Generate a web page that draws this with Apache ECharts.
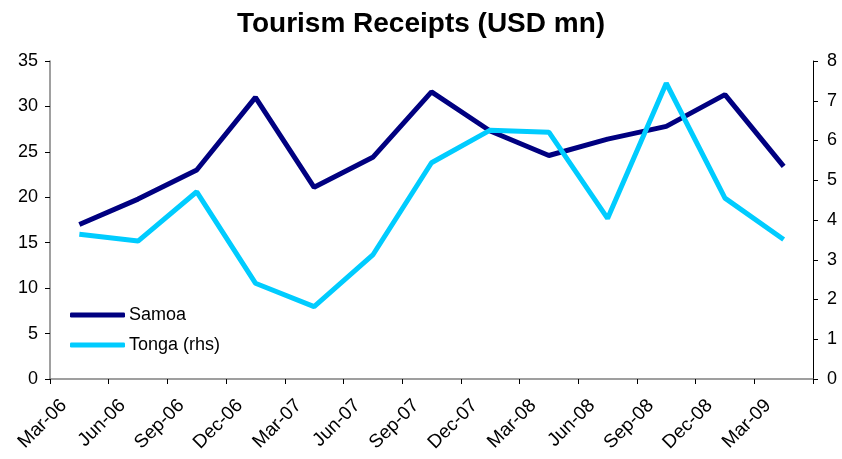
<!DOCTYPE html>
<html>
<head>
<meta charset="utf-8">
<script src="https://cdn.jsdelivr.net/npm/echarts@6/dist/echarts.min.js"></script>
<style>
    html, body { margin: 0; padding: 0; background: #fff; }
    #tourism { width: 842px; height: 459px; }
</style>
</head>
<body>
<div id="tourism"></div>
<script>
    // quarterly tourism receipts, USD mn
    var quarters = ['Mar-06','Jun-06','Sep-06','Dec-06','Mar-07','Jun-07','Sep-07','Dec-07','Mar-08','Jun-08','Sep-08','Dec-08','Mar-09'];
    var samoa = [17.0, 19.8, 23.0, 31.0, 21.1, 24.4, 31.6, 27.3, 24.6, 26.4, 27.8, 31.3, 23.4];
    var tonga = [3.64, 3.47, 4.71, 2.41, 1.82, 3.12, 5.44, 6.26, 6.21, 4.04, 7.44, 4.55, 3.51];
    var leftTicks = [0, 35, 5];
    var rightTicks = [0, 8, 1];

    var chart = echarts.init(document.getElementById('tourism'));
    var font = 'Liberation Sans, Arial, sans-serif';

    var option = {
        animation: false,
        textStyle: { fontFamily: font },
        title: {
            text: 'Tourism Receipts (USD mn)',
            left: 'center',
            top: 5,
            textStyle: { fontFamily: font, fontSize: 28, fontWeight: 'bold', color: '#000' }
        },
        legend: {
            orient: 'vertical',
            left: 65,
            top: 301,
            icon: 'roundRect',
            itemWidth: 55,
            itemHeight: 5,
            itemGap: 12,
            textStyle: { fontFamily: font, fontSize: 18, color: '#000', padding: [2, 0, 0, -1] },
            data: ['Samoa', 'Tonga (rhs)']
        },
        grid: { left: 50, right: 29, top: 61, bottom: 80 },
        xAxis: [
            {
                // data axis: points and labels in the middle of each quarter
                type: 'category',
                data: quarters,
                boundaryGap: true,
                axisLine: { show: false },
                axisTick: { show: false },
                axisLabel: {
                    interval: 0,
                    rotate: 45,
                    margin: 8,
                    padding: [0, 22, 0, 0],
                    fontFamily: font,
                    fontSize: 19,
                    color: '#000'
                }
            },
            {
                // tick axis: ticks on the quarter boundaries
                type: 'category',
                position: 'bottom',
                data: quarters.concat(['']),
                boundaryGap: false,
                axisLine: { lineStyle: { color: '#808080', width: 1.5 } },
                axisTick: { length: 5, lineStyle: { color: '#000' } },
                axisLabel: { show: false }
            }
        ],
        yAxis: [
            {
                type: 'value',
                min: leftTicks[0],
                max: leftTicks[1],
                interval: leftTicks[2],
                splitLine: { show: false },
                axisLine: { show: true, lineStyle: { color: '#808080', width: 1.5 } },
                axisTick: { show: true, length: 5, lineStyle: { color: '#000' } },
                axisLabel: { fontFamily: font, fontSize: 18, color: '#000', margin: 12 }
            },
            {
                type: 'value',
                position: 'right',
                min: rightTicks[0],
                max: rightTicks[1],
                interval: rightTicks[2],
                splitLine: { show: false },
                axisLine: { show: true, lineStyle: { color: '#000', width: 1 } },
                axisTick: { show: true, length: 5, lineStyle: { color: '#000' } },
                axisLabel: { fontFamily: font, fontSize: 18, color: '#000', margin: 14 }
            }
        ],
        series: [
            {
                name: 'Samoa',
                type: 'line',
                xAxisIndex: 0,
                yAxisIndex: 0,
                data: samoa,
                symbol: 'none',
                color: '#000080',
                lineStyle: { width: 5, color: '#000080' }
            },
            {
                name: 'Tonga (rhs)',
                type: 'line',
                xAxisIndex: 0,
                yAxisIndex: 1,
                data: tonga,
                symbol: 'none',
                color: '#00CCFF',
                lineStyle: { width: 5, color: '#00CCFF' }
            }
        ]
    };

    chart.setOption(option);
</script>
</body>
</html>
